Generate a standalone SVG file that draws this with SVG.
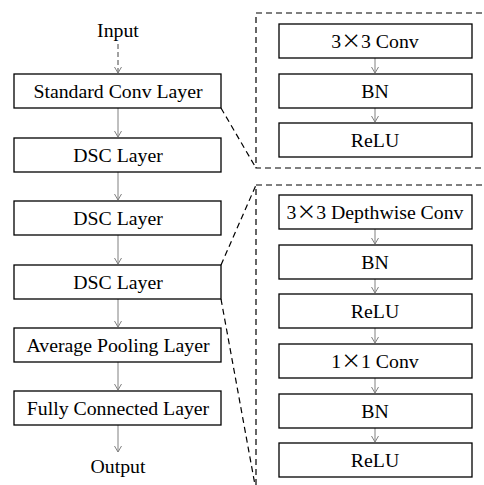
<svg xmlns="http://www.w3.org/2000/svg" width="484" height="485" viewBox="0 0 484 485">
<defs>
<marker id="ah" markerWidth="10" markerHeight="10" refX="8" refY="5" orient="auto" markerUnits="userSpaceOnUse">
<path d="M2,1.5 L8,5 L2,8.5" fill="none" stroke="#808080" stroke-width="1"/>
</marker>
</defs>
<style>
.box{fill:#fff;stroke:#000;stroke-width:1.3}
.arr{stroke:#808080;stroke-width:1;fill:none;marker-end:url(#ah)}
.dash{stroke:#000;stroke-width:1.2;fill:none;stroke-dasharray:6 4}
</style>
<rect width="484" height="485" fill="#fff"/>
<g id="zoom-frames">
<rect class="dash" x="256" y="13" width="240" height="155"/>
<rect class="dash" x="256" y="185" width="240" height="320"/>
</g>
<g id="connectors">
<line x1="118" y1="44" x2="118" y2="73" stroke="#444" stroke-width="1" stroke-dasharray="5 3" marker-end="url(#ah)"/>
<line class="arr" x1="118" y1="108" x2="118" y2="137"/>
<line class="arr" x1="118" y1="172" x2="118" y2="200"/>
<line class="arr" x1="118" y1="235" x2="118" y2="264"/>
<line class="arr" x1="118" y1="299" x2="118" y2="327"/>
<line class="arr" x1="118" y1="362" x2="118" y2="390"/>
<line class="arr" x1="118" y1="425" x2="118" y2="452"/>
<line class="arr" x1="375" y1="58" x2="375" y2="73"/>
<line class="arr" x1="375" y1="108" x2="375" y2="122"/>
<line class="arr" x1="375" y1="229" x2="375" y2="244"/>
<line class="arr" x1="375" y1="279" x2="375" y2="293"/>
<line class="arr" x1="375" y1="328" x2="375" y2="343"/>
<line class="arr" x1="375" y1="378" x2="375" y2="393"/>
<line class="arr" x1="375" y1="428" x2="375" y2="442"/>
<line class="dash" x1="221" y1="108" x2="256" y2="168"/>
<line class="dash" x1="221" y1="265" x2="256" y2="185"/>
<line class="dash" x1="221" y1="299" x2="255" y2="485"/>
</g>
<g font-family="Liberation Serif, Times New Roman, serif" font-size="19.8" fill="#000" text-anchor="middle">
<g id="input"><text x="118" y="37">Input</text></g>
<g id="output"><text x="118" y="473">Output</text></g>
<g id="std-conv"><rect class="box" x="14" y="74" width="207" height="34"/><text x="118" y="98">Standard Conv Layer</text></g>
<g id="dsc1"><rect class="box" x="14" y="138" width="207" height="34"/><text x="118" y="162">DSC Layer</text></g>
<g id="dsc2"><rect class="box" x="14" y="201" width="207" height="34"/><text x="118" y="225">DSC Layer</text></g>
<g id="dsc3"><rect class="box" x="14" y="265" width="207" height="34"/><text x="118" y="289">DSC Layer</text></g>
<g id="avgpool"><rect class="box" x="14" y="328" width="207" height="34"/><text x="118" y="352">Average Pooling Layer</text></g>
<g id="fc"><rect class="box" x="14" y="391" width="207" height="34"/><text x="118" y="415">Fully Connected Layer</text></g>
<g id="s-conv"><rect class="box" x="279" y="24" width="193" height="34"/><text x="375" y="48">3<tspan font-family="Noto Sans CJK SC, sans-serif">×</tspan>3 Conv</text></g>
<g id="s-bn"><rect class="box" x="279" y="74" width="193" height="34"/><text x="375" y="98">BN</text></g>
<g id="s-relu"><rect class="box" x="279" y="123" width="193" height="34"/><text x="375" y="147">ReLU</text></g>
<g id="d-dw"><rect class="box" x="279" y="195" width="193" height="34"/><text x="375" y="219">3<tspan font-family="Noto Sans CJK SC, sans-serif">×</tspan>3 Depthwise Conv</text></g>
<g id="d-bn1"><rect class="box" x="279" y="245" width="193" height="34"/><text x="375" y="269">BN</text></g>
<g id="d-relu1"><rect class="box" x="279" y="294" width="193" height="34"/><text x="375" y="318">ReLU</text></g>
<g id="d-pw"><rect class="box" x="279" y="344" width="193" height="34"/><text x="375" y="368">1<tspan font-family="Noto Sans CJK SC, sans-serif">×</tspan>1 Conv</text></g>
<g id="d-bn2"><rect class="box" x="279" y="394" width="193" height="34"/><text x="375" y="418">BN</text></g>
<g id="d-relu2"><rect class="box" x="279" y="443" width="193" height="34"/><text x="375" y="467">ReLU</text></g>
</g>
</svg>
